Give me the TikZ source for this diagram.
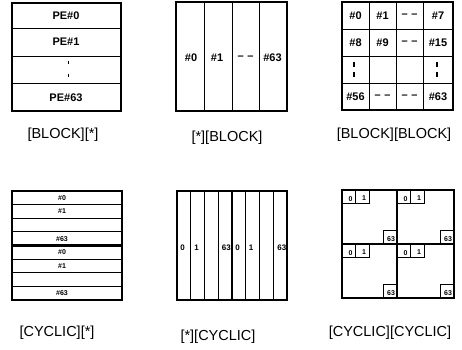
\documentclass[tikz,border=0pt]{standalone}
\usepackage{fontspec}
\setmainfont{Liberation Sans}
\begin{document}
\begin{tikzpicture}[x=1pt,y=-1pt]
	% Styles
	\tikzstyle{cadre}=[line width=1.4pt]
	\tikzstyle{trait}=[line width=0.9pt]
	\tikzstyle{separation}=[line width=2.4pt]
	\tikzstyle{tiret}=[line width=1.1pt]
	\tikzstyle{legende}=[font=\fontsize{14.5}{17}\selectfont]
	\tikzstyle{grand}=[font=\fontsize{11}{13}\selectfont\bfseries,inner sep=0pt]
	\tikzstyle{moyen}=[font=\fontsize{8}{9}\selectfont\bfseries,inner sep=0pt]
	\tikzstyle{petit}=[font=\fontsize{7}{8}\selectfont\bfseries,inner sep=0pt]
	% Dimensions
	\def\Case{13.6}
	\def\Tirets{–\hspace{3.5pt}–}
	\useasboundingbox (0,0) rectangle (462,349);
	%
	% [BLOCK][*]
	\draw[trait] (12,28.5)--(121,28.5) (12,56)--(121,56) (12,83.5)--(121,83.5);
	\draw[cadre] (12,3) rectangle (121,111);
	\node[grand] (pe0) at (66,16) {PE\#0};
	\node[grand] (pe1) at (66,42) {PE\#1};
	\node[grand] (pe63) at (66,98) {PE\#63};
	\draw[trait] (68,61)--(68,63.5) (68,74)--(68,76.5);
	\node[legende] (legA) at (63,135) {[BLOCK][*]};
	%
	% [*][BLOCK]
	\draw[trait] (204,2)--(204,111) (232,2)--(232,111) (259,2)--(259,111);
	\draw[cadre] (176,2) rectangle (287,111);
	\node[grand] (colA) at (191,58) {\#0};
	\node[grand] (colB) at (217,58) {\#1};
	\node[grand] (colC) at (245.5,58) {\Tirets};
	\node[grand] (colD) at (272.5,58) {\#63};
	\node[legende] (legB) at (227,138) {[*][BLOCK]};
	%
	% [BLOCK][BLOCK]
	\draw[trait] (369,2)--(369,110) (396,2)--(396,110) (423,2)--(423,110);
	\draw[trait] (342,29)--(453,29) (342,56)--(453,56) (342,83)--(453,83);
	\draw[cadre] (342,2) rectangle (453,110);
	\node[grand] (b0) at (355.5,15.5) {\#0};
	\node[grand] (b1) at (382.5,15.5) {\#1};
	\node[grand] (b2) at (409.5,15.5) {\Tirets};
	\node[grand] (b7) at (438,15.5) {\#7};
	\node[grand] (b8) at (355.5,42.5) {\#8};
	\node[grand] (b9) at (382.5,42.5) {\#9};
	\node[grand] (b10) at (409.5,42.5) {\Tirets};
	\node[grand] (b15) at (438,42.5) {\#15};
	\node[grand] (b56) at (355.5,96.5) {\#56};
	\node[grand] (b57) at (382.5,96.5) {\Tirets};
	\node[grand] (b58) at (409.5,96.5) {\Tirets};
	\node[grand] (b63) at (438,96.5) {\#63};
	\draw[tiret] (354,62)--(354,66.5) (354,72)--(354,76.5);
	\draw[tiret] (437,62)--(437,66.5) (437,72)--(437,76.5);
	\node[legende] (legC) at (394,135) {[BLOCK][BLOCK]};
	%
	% [CYCLIC][*]
	\draw[trait] (12,204.6)--(122,204.6) (12,218.3)--(122,218.3) (12,231.9)--(122,231.9);
	\draw[trait] (12,259.1)--(122,259.1) (12,272.8)--(122,272.8) (12,286.4)--(122,286.4);
	\draw[separation] (12,245.5)--(122,245.5);
	\draw[cadre] (12,191) rectangle (122,300);
	\node[petit] (r0) at (62,197.8) {\#0};
	\node[petit] (r1) at (62,211.4) {\#1};
	\node[petit] (r63) at (62,238.7) {\#63};
	\node[petit] (s0) at (62,252.3) {\#0};
	\node[petit] (s1) at (62,266) {\#1};
	\node[petit] (s63) at (62,293.2) {\#63};
	\node[legende] (legD) at (57,333) {[CYCLIC][*]};
	%
	% [*][CYCLIC]
	\draw[trait] (190.8,191)--(190.8,300) (204.5,191)--(204.5,300) (218.3,191)--(218.3,300);
	\draw[trait] (245.8,191)--(245.8,300) (259.5,191)--(259.5,300) (273.3,191)--(273.3,300);
	\draw[separation] (232,191)--(232,300);
	\draw[cadre] (177,191) rectangle (287,300);
	\node[moyen] (c0) at (182.5,248) {0};
	\node[moyen] (c1) at (196.5,248) {1};
	\node[moyen,anchor=east] (c63) at (231,248) {63};
	\node[moyen] (d0) at (237.5,248) {0};
	\node[moyen] (d1) at (251,248) {1};
	\node[moyen,anchor=east] (d63) at (286.5,248) {63};
	\node[legende] (legE) at (218,337) {[*][CYCLIC]};
	%
	% [CYCLIC][CYCLIC]
	% quart haut gauche
	\draw[trait] (342,190) rectangle ({342+\Case},{190+\Case}) ({342+\Case},190) rectangle ({342+2*\Case},{190+\Case});
	\draw[trait] ({397-\Case},{244-\Case}) rectangle (397,244);
	\node[petit] (q0a) at (350.5,199) {0};
	\node[petit] (q1a) at (364,198.5) {1};
	\node[petit] (q63a) at (391,239.5) {63};
	% quart haut droit
	\draw[trait] (397,190) rectangle ({397+\Case},{190+\Case}) ({397+\Case},190) rectangle ({397+2*\Case},{190+\Case});
	\draw[trait] ({454-\Case},{244-\Case}) rectangle (454,244);
	\node[petit] (q0b) at (405.5,199) {0};
	\node[petit] (q1b) at (419,198.5) {1};
	\node[petit] (q63b) at (448,239.5) {63};
	% quart bas gauche
	\draw[trait] (342,244) rectangle ({342+\Case},{244+\Case}) ({342+\Case},244) rectangle ({342+2*\Case},{244+\Case});
	\draw[trait] ({397-\Case},{298-\Case}) rectangle (397,298);
	\node[petit] (q0c) at (350.5,253) {0};
	\node[petit] (q1c) at (364,252.5) {1};
	\node[petit] (q63c) at (391,293.5) {63};
	% quart bas droit
	\draw[trait] (397,244) rectangle ({397+\Case},{244+\Case}) ({397+\Case},244) rectangle ({397+2*\Case},{244+\Case});
	\draw[trait] ({454-\Case},{298-\Case}) rectangle (454,298);
	\node[petit] (q0d) at (405.5,253) {0};
	\node[petit] (q1d) at (419,252.5) {1};
	\node[petit] (q63d) at (448,293.5) {63};
	%
	\draw[separation] (397,190)--(397,298) (342,244)--(454,244);
	\draw[cadre] (342,190) rectangle (454,298);
	\node[legende] (legF) at (390,333) {[CYCLIC][CYCLIC]};
\end{tikzpicture}
\end{document}
